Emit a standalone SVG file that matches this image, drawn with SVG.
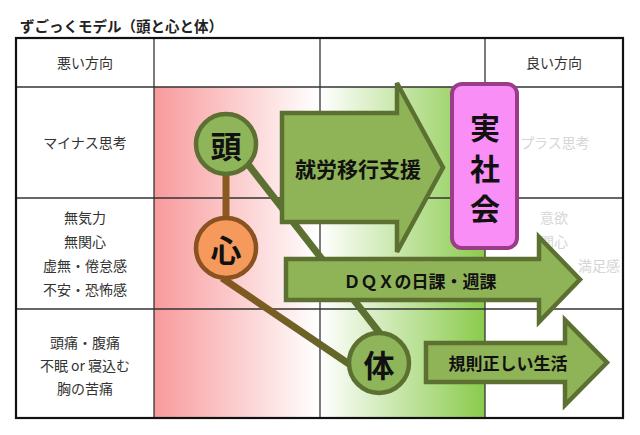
<svg xmlns="http://www.w3.org/2000/svg" width="640" height="435" viewBox="0 0 640 435">
<defs>
<linearGradient id="gRed" gradientUnits="userSpaceOnUse" x1="154" y1="0" x2="318" y2="0">
<stop offset="0" stop-color="#f89a9c"/><stop offset="1" stop-color="#ffffff"/>
</linearGradient>
<linearGradient id="gGreen" gradientUnits="userSpaceOnUse" x1="320" y1="0" x2="485" y2="0">
<stop offset="0" stop-color="#ffffff"/><stop offset="1" stop-color="#8acb4c"/>
</linearGradient>
<linearGradient id="gLine" gradientUnits="userSpaceOnUse" x1="222" y1="278" x2="352" y2="366">
<stop offset="0" stop-color="#85561f"/><stop offset="1" stop-color="#5e6a2a"/>
</linearGradient>
<style>
.t{font-family:"Noto Sans CJK JP","Noto Sans",sans-serif;}
.lbl{font-size:14px;fill:#333;text-anchor:middle;dominant-baseline:central;}
.fade{font-size:14px;fill:#d6d6d6;text-anchor:middle;dominant-baseline:central;}
.grid{stroke:#333;stroke-width:1.3;fill:none;}
.arrow{fill:#8fb357;stroke:#5b7031;stroke-width:4.5;stroke-linejoin:miter;}
.big{font-weight:bold;fill:#111;text-anchor:middle;dominant-baseline:central;}
</style>
</defs>
<rect width="640" height="435" fill="#ffffff"/>
<text class="t" x="20" y="25" font-size="14.5" font-weight="bold" fill="#222" dominant-baseline="central">ずごっくモデル（頭と心と体）</text>
<g id="background">
<rect x="154" y="87" width="166" height="331" fill="url(#gRed)"/>
<rect x="320" y="87" width="165" height="331" fill="url(#gGreen)"/>
</g>
<g id="table">
<line class="grid" x1="16" y1="87" x2="623" y2="87"/>
<line class="grid" x1="16" y1="198" x2="623" y2="198"/>
<line class="grid" x1="16" y1="309" x2="623" y2="309"/>
<line class="grid" x1="154" y1="38" x2="154" y2="418" stroke-width="1.8"/>
<line class="grid" x1="320" y1="38" x2="320" y2="418"/>
<line class="grid" x1="485" y1="38" x2="485" y2="418"/>
<rect x="16" y="38" width="607" height="380" fill="none" stroke="#111" stroke-width="2.2"/>
</g>
<g id="labels" class="t">
<text class="lbl" x="85" y="62">悪い方向</text>
<text class="lbl" x="554" y="62">良い方向</text>
<text class="lbl" x="85" y="142">マイナス思考</text>
<text class="lbl" x="85" y="217">無気力</text>
<text class="lbl" x="85" y="241">無関心</text>
<text class="lbl" x="85" y="265">虚無・倦怠感</text>
<text class="lbl" x="85" y="289">不安・恐怖感</text>
<text class="lbl" x="85" y="342">頭痛・腹痛</text>
<text class="lbl" x="85" y="365">不眠 or 寝込む</text>
<text class="lbl" x="85" y="388">胸の苦痛</text>
<text class="fade" x="555" y="142">プラス思考</text>
<text class="fade" x="554" y="217">意欲</text>
<text class="fade" x="554" y="241">関心</text>
<text class="fade" x="599" y="265" text-anchor="end" font-size="16">満足感</text>
</g>
<g id="connectors" fill="none" stroke-width="7">
<line x1="226" y1="170" x2="226" y2="222" stroke="#8a5a20"/>
<line x1="240" y1="154" x2="389" y2="345" stroke="#5b7031"/>
<line x1="222" y1="278" x2="352" y2="366" stroke="url(#gLine)"/>
</g>
<g id="arrow-shuro">
<polygon class="arrow" points="282,113 397,113 397,83 443,167.5 397,252 397,222 282,222"/>
<text class="t big" x="358" y="168" font-size="21">就労移行支援</text>
</g>
<g id="box-jitsushakai">
<rect x="452" y="84" width="65" height="164" rx="10" fill="#f98ff6" stroke="#9a3d88" stroke-width="4"/>
<text class="t big" x="485" y="126" font-size="30">実</text>
<text class="t big" x="485" y="167" font-size="30">社</text>
<text class="t big" x="485" y="207" font-size="30">会</text>
</g>
<g id="arrow-dqx">
<polygon class="arrow" points="286,259 539,259 539,237 580,279.5 539,322 539,300 286,300"/>
<text class="t big" x="420" y="280" font-size="17">ＤＱＸの日課・週課</text>
</g>
<g id="arrow-kisoku">
<polygon class="arrow" points="426,343 565,343 565,320 607,362.5 565,405 565,382 426,382"/>
<text class="t big" x="508" y="362" font-size="17">規則正しい生活</text>
</g>
<g id="node-atama">
<circle cx="226" cy="144" r="30" fill="#8fb55a" stroke="#5b7031" stroke-width="4.5"/>
<text class="t big" x="226" y="144" font-size="31">頭</text>
</g>
<g id="node-kokoro">
<circle cx="226" cy="248" r="30" fill="#f59a5c" stroke="#8a5220" stroke-width="4.5"/>
<text class="t big" x="226" y="248" font-size="31">心</text>
</g>
<g id="node-karada">
<circle cx="379" cy="363" r="30" fill="#8fb55a" stroke="#5b7031" stroke-width="4.5"/>
<text class="t big" x="379" y="363" font-size="31">体</text>
</g>
</svg>
